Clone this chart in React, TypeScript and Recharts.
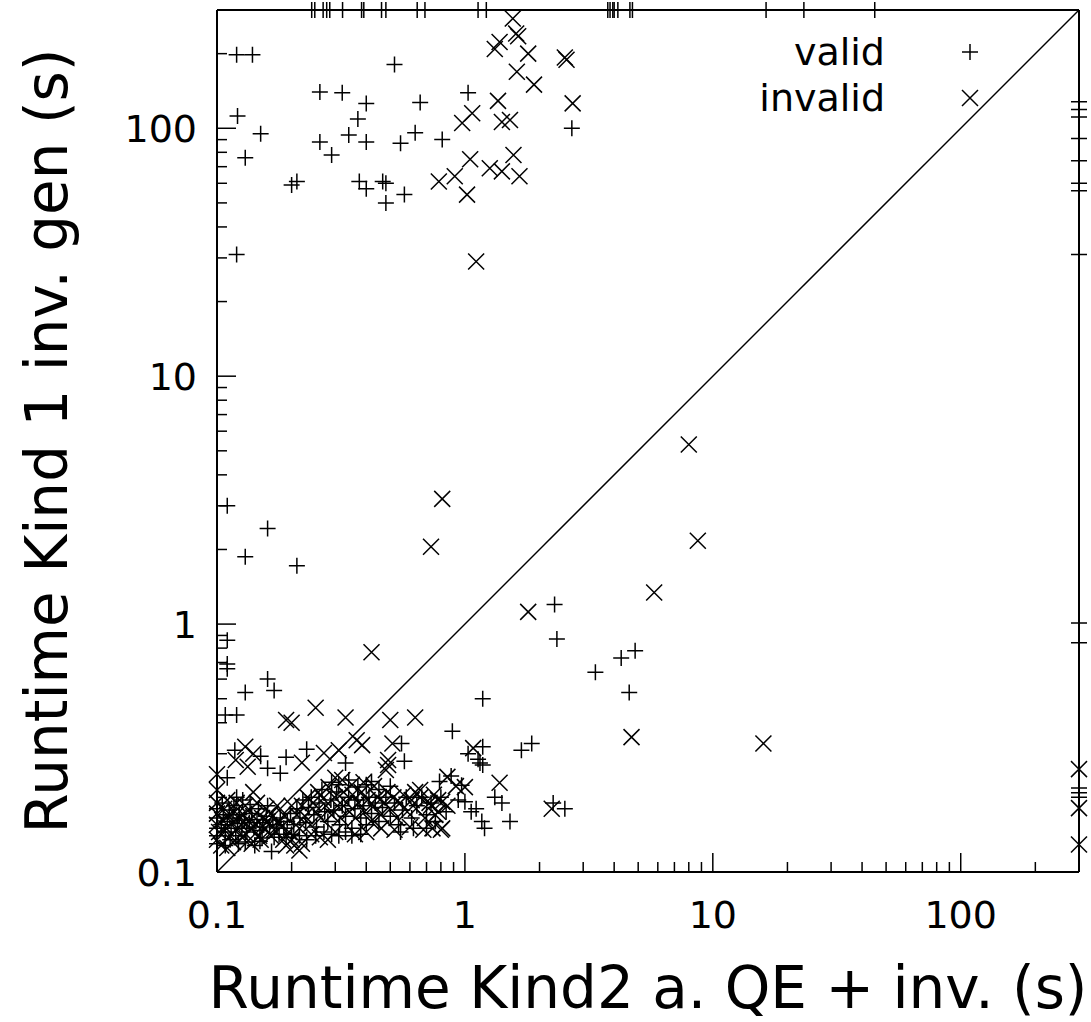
import React from 'react';
import { ScatterChart, Scatter, XAxis, YAxis, ReferenceLine, Legend } from 'recharts';

type Pair = [number, number];

const majorTicks = [0.1, 1, 10, 100];
const minorTicks = [0.2, 0.3, 0.4, 0.5, 0.6, 0.7, 0.8, 0.9, 2, 3, 4, 5, 6, 7, 8, 9, 20, 30, 40, 50, 60, 70, 80, 90, 200];
const allTicks = [...majorTicks, ...minorTicks].sort((a, b) => a - b);

// timeout value, points sitting on the top / right border
const TIMEOUT = 300;
const seriesNames = ['valid', 'invalid'];

// valid (+)
const validUpper: Pair[] = [
  [0.12, 198], [0.139, 198], [0.52, 181], [0.26, 140], [0.32, 139], [0.4, 126], [0.66, 127], [1.03, 139],
  [0.121, 112], [0.37, 109], [0.15, 95], [0.34, 94], [0.26, 88], [0.4, 88], [0.55, 87], [0.63, 96],
  [0.81, 90], [2.7, 100], [0.13, 76], [0.29, 78], [0.2, 59], [0.21, 61], [0.375, 61], [0.4, 57],
  [0.466, 61], [0.48, 60], [0.57, 54], [0.48, 50], [0.12, 31],
];
const validMiddle: Pair[] = [
  [2.3, 1.2], [2.35, 0.87], [3.36, 0.64], [4.27, 0.73], [4.86, 0.78], [4.6, 0.53], [1.18, 0.5], [0.89, 0.37],
  [0.11, 3.0], [0.16, 2.43], [0.13, 1.87], [0.21, 1.72], [0.11, 0.86], [0.11, 0.69], [0.11, 0.66],
  [0.16, 0.6], [0.17, 0.54], [0.13, 0.53], [0.108, 0.43], [0.12, 0.43],
];
const validLower: Pair[] = [
  [0.118, 0.31], [0.15, 0.293], [0.16, 0.262], [0.19, 0.29], [0.23, 0.313], [0.33, 0.275], [0.555, 0.33],
  [0.57, 0.28], [0.18, 0.25], [0.11, 0.24], [0.12, 0.2], [0.88, 0.244], [0.97, 0.224], [1.18, 0.32],
  [1.15, 0.275], [1.18, 0.27], [1.03, 0.3], [1.13, 0.285], [1.69, 0.31], [1.86, 0.33], [1.32, 0.2],
  [1.41, 0.19], [1.11, 0.18], [1.17, 0.16], [1.2, 0.15], [1.52, 0.16], [2.27, 0.19], [2.53, 0.18],
  [0.42, 0.232], [0.79, 0.232], [0.94, 0.195], [1.0, 0.192], [1.06, 0.175], [0.166, 0.121], [0.149, 0.133],
];
const validCluster: Pair[] = [
  [0.1, 0.15], [0.1, 0.165], [0.1, 0.18], [0.1, 0.14], [0.104, 0.155], [0.106, 0.17], [0.108, 0.145],
  [0.11, 0.16], [0.112, 0.178], [0.114, 0.15], [0.116, 0.165], [0.119, 0.14], [0.121, 0.157], [0.123, 0.17],
  [0.126, 0.15], [0.129, 0.162], [0.132, 0.145], [0.135, 0.158], [0.138, 0.172], [0.141, 0.152],
  [0.145, 0.163], [0.149, 0.147], [0.153, 0.158], [0.158, 0.168], [0.163, 0.152], [0.168, 0.162],
  [0.174, 0.155], [0.18, 0.165], [0.186, 0.15], [0.192, 0.16], [0.198, 0.172], [0.204, 0.155],
  [0.21, 0.18], [0.216, 0.165], [0.222, 0.195], [0.228, 0.158], [0.234, 0.182], [0.24, 0.2], [0.246, 0.17],
  [0.252, 0.152], [0.258, 0.19], [0.265, 0.215], [0.272, 0.175], [0.28, 0.16], [0.288, 0.195],
  [0.296, 0.178], [0.304, 0.21], [0.312, 0.155], [0.32, 0.185], [0.33, 0.168], [0.34, 0.2], [0.35, 0.15],
  [0.36, 0.18], [0.37, 0.195], [0.38, 0.165], [0.39, 0.185], [0.4, 0.155], [0.41, 0.2], [0.42, 0.172],
  [0.435, 0.19], [0.45, 0.16], [0.465, 0.182], [0.48, 0.2], [0.5, 0.168], [0.52, 0.19], [0.54, 0.155],
  [0.56, 0.178], [0.58, 0.2], [0.61, 0.165], [0.64, 0.185], [0.67, 0.2], [0.7, 0.17], [0.73, 0.19],
  [0.76, 0.16], [0.8, 0.2], [0.84, 0.175],
  [0.1, 0.13], [0.105, 0.19], [0.108, 0.128], [0.113, 0.135], [0.117, 0.185], [0.122, 0.13], [0.127, 0.195],
  [0.13, 0.132], [0.136, 0.187], [0.142, 0.128], [0.147, 0.18], [0.152, 0.137], [0.16, 0.185], [0.17, 0.138],
  [0.178, 0.142], [0.19, 0.138], [0.2, 0.142], [0.215, 0.14], [0.23, 0.135], [0.25, 0.14], [0.27, 0.145],
  [0.29, 0.142], [0.31, 0.14], [0.33, 0.145], [0.35, 0.14], [0.38, 0.142], [0.29, 0.23], [0.31, 0.225],
  [0.34, 0.235], [0.37, 0.22], [0.4, 0.225], [0.45, 0.215], [0.5, 0.222], [0.55, 0.145], [0.62, 0.15],
  [0.7, 0.15],
];
const validTopX = [0.241, 0.248, 0.268, 0.277, 0.285, 0.321, 0.383, 0.391, 0.461, 0.48, 0.642, 0.69, 1.13, 1.22, 3.77, 3.85, 3.95, 4.0, 4.14, 4.63, 4.74, 16.4, 23.3, 45];
const validRightY = [128, 119, 111, 91, 74, 60, 56, 31, 1.01, 0.84, 0.218, 0.209, 0.2];

// invalid (x)
const invalidUpper: Pair[] = [
  [1.56, 277], [1.64, 235], [1.61, 241], [1.38, 223], [1.32, 209], [1.8, 200], [2.53, 193], [2.57, 189],
  [1.62, 169], [1.9, 150], [2.72, 126], [1.36, 129], [1.07, 115], [0.975, 105], [1.41, 106], [1.52, 108],
  [1.05, 75], [1.26, 69], [1.41, 67], [1.57, 78], [1.66, 64], [0.785, 61], [0.91, 64], [1.02, 54], [1.11, 29],
];
const invalidMiddle: Pair[] = [
  [0.81, 3.2], [0.73, 2.05], [8.0, 5.3], [8.7, 2.17], [5.8, 1.34], [1.8, 1.12], [4.7, 0.35], [16, 0.33],
  [0.63, 0.42], [0.42, 0.77], [0.19, 0.41], [0.2, 0.4], [0.25, 0.46], [0.33, 0.42], [0.5, 0.41],
];
const invalidLower: Pair[] = [
  [0.1, 0.248], [0.1, 0.214], [0.13, 0.32], [0.14, 0.3], [0.119, 0.283], [0.133, 0.266], [0.22, 0.276],
  [0.27, 0.302], [0.31, 0.31], [0.385, 0.325], [0.366, 0.34], [0.51, 0.33], [0.49, 0.283], [0.49, 0.27],
  [0.48, 0.258], [0.14, 0.21], [0.85, 0.242], [1.08, 0.316], [1.38, 0.229], [2.24, 0.18], [0.92, 0.222],
  [1.0, 0.22], [0.63, 0.21], [0.66, 0.214], [0.78, 0.195], [0.81, 0.192], [0.73, 0.185], [0.76, 0.17],
  [0.11, 0.125], [0.2, 0.135], [0.19, 0.128],
];
const invalidCluster: Pair[] = [
  [0.1, 0.155], [0.1, 0.172], [0.102, 0.145], [0.105, 0.162], [0.107, 0.18], [0.109, 0.15], [0.111, 0.168],
  [0.113, 0.14], [0.115, 0.158], [0.118, 0.175], [0.12, 0.148], [0.122, 0.165], [0.125, 0.155],
  [0.128, 0.17], [0.131, 0.142], [0.134, 0.16], [0.137, 0.15], [0.14, 0.168], [0.144, 0.155], [0.148, 0.14],
  [0.152, 0.165], [0.156, 0.15], [0.16, 0.16], [0.165, 0.172], [0.17, 0.148], [0.176, 0.16], [0.182, 0.152],
  [0.188, 0.168], [0.195, 0.145], [0.205, 0.128], [0.21, 0.17], [0.215, 0.15], [0.22, 0.185],
  [0.226, 0.168], [0.232, 0.2], [0.238, 0.155], [0.244, 0.19], [0.25, 0.175], [0.256, 0.21], [0.262, 0.165],
  [0.268, 0.198], [0.275, 0.185], [0.282, 0.22], [0.29, 0.17], [0.298, 0.2], [0.306, 0.185], [0.315, 0.165],
  [0.324, 0.21], [0.333, 0.19], [0.342, 0.175], [0.352, 0.205], [0.362, 0.165], [0.372, 0.19], [0.383, 0.21],
  [0.394, 0.175], [0.405, 0.195], [0.418, 0.16], [0.43, 0.185], [0.444, 0.2], [0.458, 0.17], [0.472, 0.19],
  [0.487, 0.21], [0.5, 0.18], [0.515, 0.2], [0.53, 0.165], [0.548, 0.19], [0.565, 0.205], [0.585, 0.175],
  [0.61, 0.195], [0.635, 0.18], [0.66, 0.2], [0.69, 0.165], [0.72, 0.19], [0.75, 0.205], [0.78, 0.175],
  [0.81, 0.15], [0.85, 0.185],
  [0.1, 0.19], [0.1, 0.135], [0.104, 0.128], [0.11, 0.195], [0.116, 0.132], [0.12, 0.19], [0.126, 0.138],
  [0.13, 0.185], [0.138, 0.13], [0.145, 0.19], [0.15, 0.135], [0.158, 0.18], [0.165, 0.14], [0.175, 0.185],
  [0.185, 0.135], [0.2, 0.185], [0.24, 0.142], [0.26, 0.138], [0.28, 0.135], [0.3, 0.145], [0.32, 0.235],
  [0.3, 0.24], [0.35, 0.225], [0.39, 0.23], [0.43, 0.222], [0.36, 0.142], [0.4, 0.145], [0.46, 0.15],
  [0.52, 0.148], [0.6, 0.152], [0.68, 0.148], [0.74, 0.15], [0.8, 0.148], [0.22, 0.13], [0.215, 0.122],
];
const invalidRightY = [0.26, 0.181, 0.129];

const toPoints = (pairs: Pair[]) => pairs.map(([x, y]) => ({ x, y }));

const validData = toPoints([
  ...validUpper, ...validMiddle, ...validLower, ...validCluster,
  ...validTopX.map((x): Pair => [x, TIMEOUT]),
  ...validRightY.map((y): Pair => [TIMEOUT, y]),
]);
const invalidData = toPoints([
  ...invalidUpper, ...invalidMiddle, ...invalidLower, ...invalidCluster,
  ...invalidRightY.map((y): Pair => [TIMEOUT, y]),
]);

const FONT = '"DejaVu Sans", sans-serif';
const MAJOR_LEN = 19;
const MINOR_LEN = 10;
const R = 8;
const isMajor = (v: number) => majorTicks.includes(v);

const plusPath = (cx: number, cy: number) => `M${cx - R},${cy}H${cx + R}M${cx},${cy - R}V${cy + R}`;
const crossPath = (cx: number, cy: number) =>
  `M${cx - R},${cy - R}L${cx + R},${cy + R}M${cx - R},${cy + R}L${cx + R},${cy - R}`;

const Plus = (props: any) => <path d={plusPath(props.cx, props.cy)} stroke="#000" strokeWidth={1.5} fill="none" />;
const Cross = (props: any) => <path d={crossPath(props.cx, props.cy)} stroke="#000" strokeWidth={1.5} fill="none" />;

const BottomTick = ({ x, y, payload }: any) => (
  <g>
    <line x1={x} x2={x} y1={y} y2={y - (isMajor(payload.value) ? MAJOR_LEN : MINOR_LEN)} stroke="#000" strokeWidth={1.5} />
    {isMajor(payload.value) && (
      <text x={x} y={y + 56} textAnchor="middle" fontSize={38} fontFamily={FONT} fill="#000">
        {String(payload.value)}
      </text>
    )}
  </g>
);
const TopTick = ({ x, y, payload }: any) => (
  <line x1={x} x2={x} y1={y} y2={y + (isMajor(payload.value) ? MAJOR_LEN : MINOR_LEN)} stroke="#000" strokeWidth={1.5} />
);
const LeftTick = ({ x, y, payload }: any) => (
  <g>
    <line x1={x} x2={x + (isMajor(payload.value) ? MAJOR_LEN : MINOR_LEN)} y1={y} y2={y} stroke="#000" strokeWidth={1.5} />
    {isMajor(payload.value) && (
      <text x={x - 20} y={y + 14} textAnchor="end" fontSize={38} fontFamily={FONT} fill="#000">
        {String(payload.value)}
      </text>
    )}
  </g>
);
const RightTick = ({ x, y, payload }: any) => (
  <line x1={x} x2={x - (isMajor(payload.value) ? MAJOR_LEN : MINOR_LEN)} y1={y} y2={y} stroke="#000" strokeWidth={1.5} />
);

const XTitle = (props: any) => {
  const vb = props.viewBox || { x: 217, y: 872, width: 862, height: 150 };
  return (
    <text x={vb.x + vb.width / 2} y={vb.y + 136} textAnchor="middle" fontSize={58} fontFamily={FONT} fill="#000">
      Runtime Kind2 a. QE + inv. (s)
    </text>
  );
};
const YTitle = (props: any) => {
  const vb = props.viewBox || { x: 0, y: 10, width: 217, height: 862 };
  const cx = vb.x + 67;
  const cy = vb.y + vb.height / 2;
  return (
    <text x={cx} y={cy} transform={`rotate(-90, ${cx}, ${cy})`} textAnchor="middle" fontSize={58} fontFamily={FONT} fill="#000">
      Runtime Kind 1 inv. gen (s)
    </text>
  );
};

const LegendBox = (props: any) => {
  const items = [...(props.payload || [])].sort(
    (a: any, b: any) => seriesNames.indexOf(a.value) - seriesNames.indexOf(b.value),
  );
  return (
    <svg width={1091} height={130} style={{ display: 'block' }}>
      {items.map((item: any, i: number) => {
        const cy = 52 + i * 46;
        return (
          <g key={item.value}>
            <text x={885} y={cy + 13} textAnchor="end" fontSize={38} fontFamily={FONT} fill="#000">
              {item.value}
            </text>
            <path d={item.value === 'valid' ? plusPath(970, cy) : crossPath(970, cy)} stroke="#000" strokeWidth={1.5} fill="none" />
          </g>
        );
      })}
    </svg>
  );
};

const axisLine = { stroke: '#000', strokeWidth: 2 };

export default function App() {
  return (
    <div style={{ position: 'absolute', left: 0, top: 0, width: 1091, height: 1022, background: '#fff' }}>
      <ScatterChart width={1091} height={1022} margin={{ top: 0, right: 0, bottom: 0, left: 0 }}>
        <XAxis
          xAxisId="b" dataKey="x" type="number" scale="log" domain={[0.1, TIMEOUT]} ticks={allTicks} interval={0}
          orientation="bottom" height={150} tickSize={0} tickMargin={0} tickLine={false} axisLine={axisLine}
          tick={<BottomTick />} label={{ content: <XTitle /> }}
        />
        <XAxis
          xAxisId="t" type="number" scale="log" domain={[0.1, TIMEOUT]} ticks={allTicks} interval={0}
          orientation="top" height={10} tickSize={0} tickMargin={0} tickLine={false} axisLine={axisLine}
          tick={<TopTick />}
        />
        <YAxis
          yAxisId="l" dataKey="y" type="number" scale="log" domain={[0.1, TIMEOUT]} ticks={allTicks} interval={0}
          orientation="left" width={217} tickSize={0} tickMargin={0} tickLine={false} axisLine={axisLine}
          tick={<LeftTick />} label={{ content: <YTitle /> }}
        />
        <YAxis
          yAxisId="r" type="number" scale="log" domain={[0.1, TIMEOUT]} ticks={allTicks} interval={0}
          orientation="right" width={12} tickSize={0} tickMargin={0} tickLine={false} axisLine={axisLine}
          tick={<RightTick />}
        />
        <ReferenceLine
          xAxisId="b" yAxisId="l" ifOverflow="visible"
          segment={[{ x: 0.1, y: 0.1 }, { x: TIMEOUT, y: TIMEOUT }]}
          stroke="#000" strokeWidth={1.5}
        />
        <Scatter name="valid" xAxisId="b" yAxisId="l" data={validData} shape={Plus} isAnimationActive={false} />
        <Scatter name="invalid" xAxisId="b" yAxisId="l" data={invalidData} shape={Cross} isAnimationActive={false} />
        <Legend
          layout="vertical" align="center" verticalAlign="middle"
          wrapperStyle={{ position: 'absolute', left: 0, top: 0, width: 1091, height: 130 }}
          content={<LegendBox />}
        />
      </ScatterChart>
    </div>
  );
}
